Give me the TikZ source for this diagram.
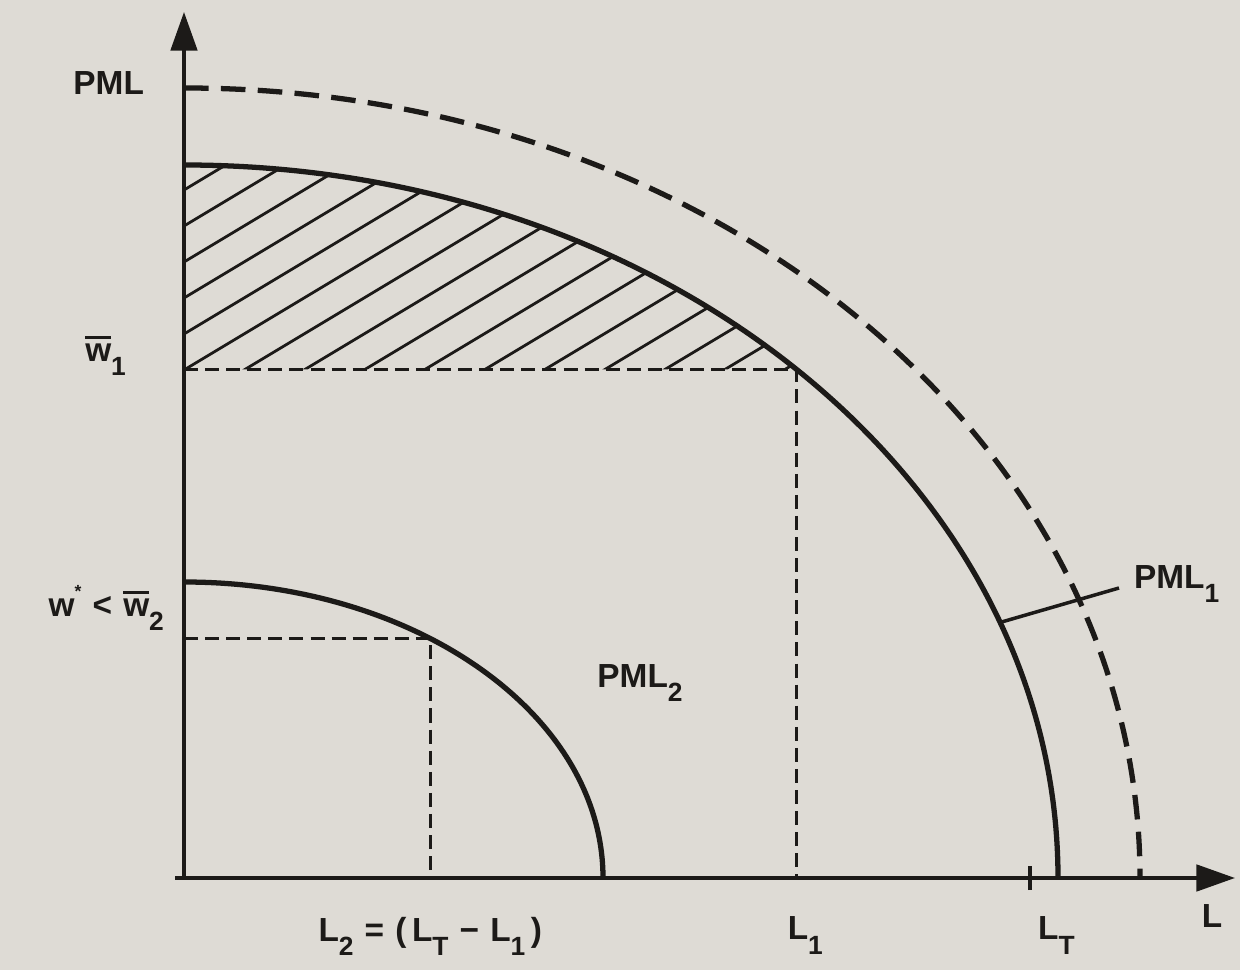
\documentclass[tikz,border=0pt]{standalone}
\usepackage{fontspec}
\setmainfont{Liberation Sans}
\usetikzlibrary{arrows.meta, positioning}
\definecolor{paper}{HTML}{DEDBD5}
\definecolor{ink}{HTML}{1C1A18}
\newcommand{\lo}[1]{\raisebox{-0.8ex}{\fontsize{15}{15}\selectfont #1}}
\newcommand{\wbar}{\vbox{\hrule height 1.3pt\kern 3pt\hbox{w}}}

\begin{document}
\begin{tikzpicture}[x=0.02cm, y=0.02cm,
    every node/.style={font=\fontsize{19}{21}\selectfont\bfseries, text=ink, inner sep=1pt},
    axis/.style={ink, line width=2.2pt, -{Triangle[length=22pt, width=15pt]}},
    curve/.style={ink, line width=3pt},
    frontier/.style={ink, line width=3pt, dash pattern=on 14pt off 7pt},
    guide/.style={ink, line width=1.8pt, dash pattern=on 8pt off 4pt},
    hatch/.style={ink, line width=1.6pt},
    leader/.style={ink, line width=2pt}
]
    \fill[paper] (-184,-92) rectangle (1056,878);
    \useasboundingbox (-184,-92) rectangle (1056,878);

    \coordinate (o) at (0,0);
    \coordinate (xstart) at (-9,0);
    \coordinate (ytop) at (0,866);
    \coordinate (xend) at (1051,0);
    \coordinate (p1) at (45.5:874 and 713);
    \coordinate (p2) at (54:419 and 296);
    \coordinate (w1) at (o |- p1);
    \coordinate (w2) at (o |- p2);
    \coordinate (l1) at (p1 |- o);
    \coordinate (l2) at (p2 |- o);
    \coordinate (lt) at (846,0);
    \coordinate (q) at (21:874 and 713);
    \coordinate (e) at (935,290);

    % hatched region above w1
    \begin{scope}
        \clip (w1) -- (0,713) arc[start angle=90, end angle=45.5, x radius=874, y radius=713] -- cycle;
        \foreach \c in {688,652,...,40}
            \draw[hatch] (0,\c) -- (700,\c+420);
    \end{scope}

    % frontiers
    \draw[frontier] (0,790) arc[start angle=90, end angle=0, x radius=956, y radius=790];
    \draw[curve] (0,713) arc[start angle=90, end angle=0, x radius=874, y radius=713];
    \draw[curve] (0,296) arc[start angle=90, end angle=0, x radius=419, y radius=296];

    \draw[guide] (w1) -- (p1) -- (l1);
    \draw[guide] (w2) -- (p2) -- (l2);

    \draw[axis] (o) -- (ytop);
    \draw[axis] (xstart) -- (xend);
    \draw[ink, line width=1.8pt] (lt) ++(0,-12) -- ++(0,24);
    \draw[leader] (q) -- (e);

    % labels
    \node[anchor=east] (pml) at (-38,795) {PML};
    \node[anchor=east] (wa) at (-56,522) {\wbar\lo{1}};
    \node[anchor=east] (wb) at (-18,270) {w\raisebox{1.1ex}{\fontsize{10}{10}\selectfont *}\,\,<\,\,\wbar\lo{2}};
    \node[below=21pt of l2] (ll2) {L\lo{2}\,\,=\,\,(\,L\lo{T}\,\,−\,\,L\lo{1}\,)};
    \node[below=21pt of l1, xshift=5pt] (ll1) {L\lo{1}};
    \node[below=21pt of lt, xshift=15pt] (llt) {L\lo{T}};
    \node (ll) at (1028,-38) {L};
    \node (pml2) at (456,195) {PML\lo{2}};
    \node[anchor=west] (pml1) at (948,294) {PML\lo{1}};
\end{tikzpicture}
\end{document}
